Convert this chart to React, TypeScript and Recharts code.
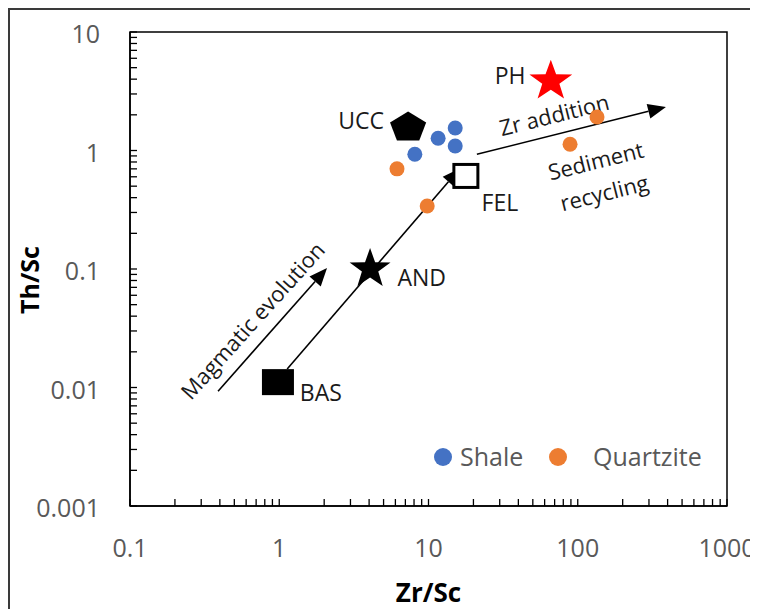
import React from 'react';
import { ScatterChart, Scatter, XAxis, YAxis, ReferenceLine, ReferenceArea, Legend, Label } from 'recharts';

// sample points
const shaleZrSc = [8.1, 11.6, 15.1, 15.1];
const shaleThSc = [0.93, 1.27, 1.55, 1.09];
const quartziteZrSc = [6.15, 9.8, 88.8, 134.6];
const quartziteThSc = [0.7, 0.34, 1.13, 1.92];

// reference compositions
const refNames = ['UCC', 'PH', 'FEL', 'AND', 'BAS'];
const refZrSc = [7.3, 66, 17.8, 4.06, 0.98];
const refThSc = [1.61, 4.0, 0.61, 0.104, 0.0111];
const refLabelZrSc = [3.53, 35.2, 30.1, 9.0, 1.9];
const refLabelThSc = [1.77, 4.26, 0.36, 0.084, 0.009];

// trend arrows
const arrowFrom = [[1.13, 0.0143], [0.389, 0.0093], [21.1, 0.93]];
const arrowTo = [[16.3, 0.71], [2.09, 0.102], [390, 2.33]];

const noteText = ['Magmatic evolution', 'Zr addition', 'Sediment', 'recycling'];
const noteZrSc = [0.656, 69.3, 132, 150];
const noteThSc = [0.0372, 2.03, 0.83, 0.447];
const noteAngle = [-48, -14, -14, -14];

const xMajor = [0.1, 1, 10, 100, 1000];
const yMajor = [0.001, 0.01, 0.1, 1, 10];

const minorSteps = [1, 2, 3, 4, 5, 6, 7, 8, 9];
const withMinors = (majors: number[]) =>
  majors.slice(0, -1).flatMap((m) => minorSteps.map((s) => m * s)).concat(majors[majors.length - 1]);

const xTicks = withMinors(xMajor);
const yTicks = withMinors(yMajor);

const shaleData = shaleZrSc.map((x, i) => ({ x, y: shaleThSc[i] }));
const quartziteData = quartziteZrSc.map((x, i) => ({ x, y: quartziteThSc[i] }));
const refData = refNames.map((name, i) => ({ name, x: refZrSc[i], y: refThSc[i] }));
const refLabelData = refNames.map((name, i) => ({ name, x: refLabelZrSc[i], y: refLabelThSc[i] }));
const noteData = noteText.map((text, i) => ({ text, angle: noteAngle[i], x: noteZrSc[i], y: noteThSc[i] }));

const FONT = '"Open Sans", sans-serif';
const TICK_GRAY = '#595959';
const SHALE = '#4472C4';
const QUARTZITE = '#ED7D31';

const isMajor = (list: number[], v: number) => list.some((m) => Math.abs(m - v) < m * 1e-6);

const XTick = (props: any) => {
  const { x, y, payload } = props;
  const v = payload.value;
  return (
    <g>
      <line x1={x} y1={y} x2={x} y2={y - 7} stroke="#000" strokeWidth={1.3} />
      {isMajor(xMajor, v) && (
        <text x={x} y={y + 51} textAnchor="middle" fill={TICK_GRAY} fontSize={25} fontFamily={FONT}>
          {String(v)}
        </text>
      )}
    </g>
  );
};

const YTick = (props: any) => {
  const { x, y, payload } = props;
  const v = payload.value;
  return (
    <g>
      <line x1={x} y1={y} x2={x + 7} y2={y} stroke="#000" strokeWidth={1.3} />
      {isMajor(yMajor, v) && (
        <text x={x - 30} y={y + 11} textAnchor="end" fill={TICK_GRAY} fontSize={25} fontFamily={FONT}>
          {String(v)}
        </text>
      )}
    </g>
  );
};

const polyPoints = (cx: number, cy: number, rx: number, ry: number, inner: number, n: number) => {
  const pts: string[] = [];
  const steps = inner > 0 ? n * 2 : n;
  const shift = ry * 0.0955;
  for (let i = 0; i < steps; i++) {
    const a = ((-90 + (i * 360) / steps) * Math.PI) / 180;
    const k = inner > 0 && i % 2 === 1 ? inner : 1;
    pts.push(`${cx + rx * k * Math.cos(a)},${cy + shift + ry * k * Math.sin(a)}`);
  }
  return pts.join(' ');
};

const RefMarker = (props: any) => {
  const { cx, cy, payload } = props;
  switch (payload.name) {
    case 'UCC':
      return <polygon points={polyPoints(cx, cy, 19, 16, 0, 5)} fill="#000" />;
    case 'PH':
      return <polygon points={polyPoints(cx, cy, 22.5, 21.5, 0.4, 5)} fill="#FF0000" />;
    case 'AND':
      return <polygon points={polyPoints(cx, cy, 21.5, 21, 0.4, 5)} fill="#000" />;
    case 'FEL':
      return <rect x={cx - 12} y={cy - 11.5} width={24} height={23} fill="#fff" stroke="#000" strokeWidth={3} />;
    case 'BAS':
      return <rect x={cx - 16} y={cy - 13} width={32} height={26} fill="#000" />;
    default:
      return <g />;
  }
};

const RefLabel = (props: any) => {
  const { cx, cy, payload } = props;
  return (
    <text x={cx} y={cy + 8} textAnchor="middle" fontSize={23} fontFamily={FONT} fill="#1a1a1a">
      {payload.name}
    </text>
  );
};

const NoteText = (props: any) => {
  const { cx, cy, payload } = props;
  return (
    <text
      x={cx}
      y={cy}
      textAnchor="middle"
      dominantBaseline="central"
      fontSize={22}
      fontFamily={FONT}
      fill="#1a1a1a"
      transform={`rotate(${payload.angle} ${cx} ${cy})`}
    >
      {payload.text}
    </text>
  );
};

const Dot = (color: string) => (props: any) => <circle cx={props.cx} cy={props.cy} r={7.5} fill={color} />;

const Arrow = (props: any) => {
  const { x1, y1, x2, y2 } = props;
  const dx = x2 - x1;
  const dy = y2 - y1;
  const len = Math.sqrt(dx * dx + dy * dy);
  const ux = dx / len;
  const uy = dy / len;
  const headLen = 18;
  const headW = 7.5;
  const bx = x2 - ux * headLen;
  const by = y2 - uy * headLen;
  return (
    <g>
      <line x1={x1} y1={y1} x2={bx} y2={by} stroke="#000" strokeWidth={1.6} />
      <polygon
        points={`${x2},${y2} ${bx - uy * headW},${by + ux * headW} ${bx + uy * headW},${by - ux * headW}`}
        fill="#000"
      />
    </g>
  );
};

const LegendBox = () => (
  <svg width={300} height={40} style={{ overflow: 'visible' }}>
    <circle cx={9} cy={20} r={9} fill={SHALE} />
    <text x={26} y={29} fontSize={25} fontFamily={FONT} fill={TICK_GRAY}>Shale</text>
    <circle cx={124} cy={20} r={9} fill={QUARTZITE} />
    <text x={159} y={29} fontSize={25} fontFamily={FONT} fill={TICK_GRAY}>Quartzite</text>
  </svg>
);

export default function App() {
  return (
    <div
      style={{
        width: 748,
        height: 599,
        borderTop: '2px solid #3a3a3a',
        borderLeft: '2px solid #3a3a3a',
        fontFamily: FONT,
        overflow: 'hidden',
      }}
    >
      <ScatterChart width={748} height={599} margin={{ top: 22, right: 31, left: 0, bottom: 0 }}>
        <XAxis
          dataKey="x"
          type="number"
          scale="log"
          domain={[0.1, 1000]}
          allowDataOverflow
          ticks={xTicks}
          interval={0}
          tickSize={0}
          tickMargin={0}
          tick={<XTick />}
          height={103}
          axisLine={{ stroke: '#000', strokeWidth: 1.5 }}
        >
          <Label
            content={(p: any) => (
              <text
                x={p.viewBox.x + p.viewBox.width / 2}
                y={p.viewBox.y + 96}
                textAnchor="middle"
                fontSize={26}
                fontWeight="bold"
                fontFamily={FONT}
                fill="#000"
              >
                Zr/Sc
              </text>
            )}
          />
        </XAxis>
        <YAxis
          dataKey="y"
          type="number"
          scale="log"
          domain={[0.001, 10]}
          allowDataOverflow
          ticks={yTicks}
          interval={0}
          tickSize={0}
          tickMargin={0}
          tick={<YTick />}
          width={120}
          axisLine={{ stroke: '#000', strokeWidth: 1.5 }}
        >
          <Label
            content={(p: any) => {
              const cx = p.viewBox.x + 19;
              const cy = p.viewBox.y + p.viewBox.height / 2 + 11;
              return (
                <text
                  x={cx}
                  y={cy}
                  textAnchor="middle"
                  dominantBaseline="central"
                  fontSize={25}
                  fontWeight="bold"
                  fontFamily={FONT}
                  fill="#000"
                  transform={`rotate(-90 ${cx} ${cy})`}
                >
                  Th/Sc
                </text>
              );
            }}
          />
        </YAxis>
        <ReferenceArea x1={0.1} x2={1000} y1={0.001} y2={10} fill="none" stroke="#000" strokeWidth={1.5} />
        {arrowFrom.map((from, i) => (
          <ReferenceLine
            key={i}
            segment={[
              { x: from[0], y: from[1] },
              { x: arrowTo[i][0], y: arrowTo[i][1] },
            ]}
            shape={<Arrow />}
          />
        ))}
        <Scatter name="notes" data={noteData} shape={<NoteText />} isAnimationActive={false} legendType="none" />
        <Scatter name="labels" data={refLabelData} shape={<RefLabel />} isAnimationActive={false} legendType="none" />
        <Scatter name="Shale" data={shaleData} shape={Dot(SHALE)} isAnimationActive={false} />
        <Scatter name="Quartzite" data={quartziteData} shape={Dot(QUARTZITE)} isAnimationActive={false} />
        <Scatter name="refs" data={refData} shape={<RefMarker />} isAnimationActive={false} legendType="none" />
        <Legend
          layout="horizontal"
          verticalAlign="middle"
          align="center"
          wrapperStyle={{ left: 424, top: 427, width: 300, height: 40 }}
          content={<LegendBox />}
        />
      </ScatterChart>
    </div>
  );
}
